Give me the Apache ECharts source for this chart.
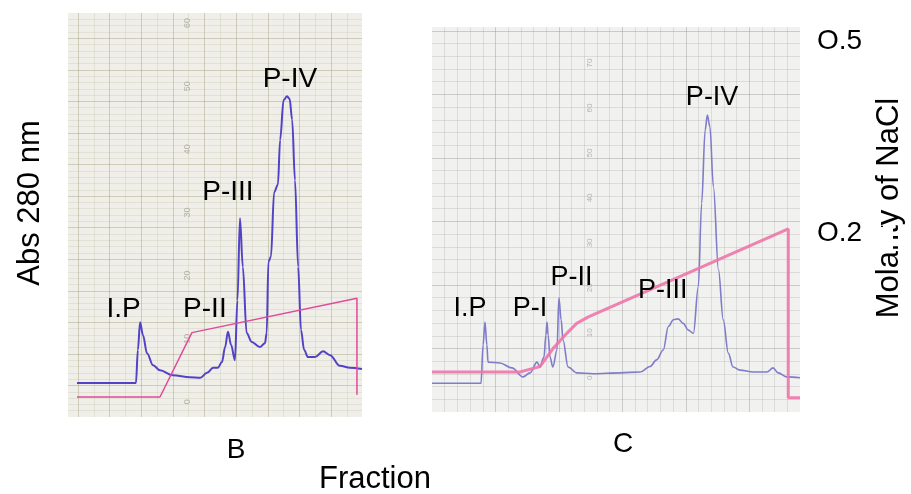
<!DOCTYPE html>
<html>
<head>
<meta charset="utf-8">
<script src="https://cdn.jsdelivr.net/npm/echarts@6/dist/echarts.min.js"></script>
<style>
  html, body { margin: 0; padding: 0; background: #fff; }
  #chart { width: 911px; height: 494px; }
</style>
</head>
<body>
<div id="chart"></div>
<script>
// ---- Column B: recorder trace (fraction number vs. chart divisions) ----
const fractionB = [2.85, 21.5, 22.1, 22.8, 23.7, 25.0, 26.9, 29.1, 33.2, 38.6, 41.8, 44.0, 45.9, 47.4, 48.7,
  49.7, 50.6, 51.6, 52.8, 53.6, 54.4, 55.3, 56.5, 58.1, 60.7, 62.3, 62.85, 63.4, 64.2, 65.2, 66.4, 67.1,
  68.2, 69.3, 70.1, 70.9, 71.8, 72.8, 73.7, 74.7, 75.9, 78.1, 80.7, 82.9, 86.0, 89.2, 93.0];
const absB = [3.0, 3.0, 8.2, 12.6, 10.6, 7.7, 5.8, 5.0, 4.2, 3.9, 3.8, 4.6, 5.4, 5.4, 6.3,
  8.7, 11.1, 9.0, 6.6, 16.1, 29.1, 21.4, 10.9, 9.5, 8.7, 9.3, 10.9, 22.2, 23.0, 33.2, 34.4, 41.5,
  47.8, 48.4, 48.0, 44.7, 35.1, 21.4, 11.4, 8.2, 7.1, 7.1, 8.0, 7.4, 5.7, 5.4, 5.2];
// NaCl gradient for column B (M)
const gradFractionB = [2.85, 29.1, 39.2, 91.4, 91.4];
const naclB = [0, 0, 0.09, 0.138, 0.003];
// peak names and where they are written
const peakNamesB = ['I.P', 'P-II', 'P-III', 'P-IV'];
const peakLabelXB = [17.6, 43.3, 50.6, 70.2];
const peakLabelYB = [14.6, 14.6, 33.2, 51.1];

// ---- Column C ----
const fractionC = [0, 15.45, 16.1, 16.7, 17.3, 17.65, 21.4, 25.2, 28.7, 30.9, 33.1, 34.0, 35.3, 35.9, 36.25,
  36.6, 37.2, 38.1, 39.4, 40.0, 40.7, 41.3, 42.9, 45.7, 50.8, 59.3, 65.6, 68.7, 70.8, 72.9, 74.5, 76.1,
  77.6, 79.2, 80.8, 82.4, 83.95, 85.0, 86.1, 86.8, 87.6, 88.7, 90.3, 91.8, 93.4, 94.9, 97.1, 101.2,
  105.6, 107.5, 109.1, 111.9, 116];
const absC = [-1.2, -1.2, 7.3, 12.4, 7.3, 3.5, 3.3, 2.2, 0.2, 1.1, 3.5, 2.4, 4.6, 9.5, 12.4,
  9.5, 4.6, 2.4, 6.2, 17.8, 12.9, 8.4, 2.4, 1.1, 0.9, 1.1, 1.3, 2.5, 4.0, 6.2, 11.4, 12.9,
  13.1, 12.1, 10.6, 9.9, 20.3, 38.8, 55.1, 58.4, 55.8, 42.5, 24.0, 12.9, 5.5, 2.4, 1.7, 1.3,
  1.3, 2.2, 1.1, 0.2, 0.0];
const gradFractionC = [0, 27.7, 34.0, 38.2, 42.5, 45.6, 49.3, 112.3, 112.3, 116];
const naclC = [0, 0, 0.0074, 0.033, 0.054, 0.068, 0.077, 0.2, -0.036, -0.036];
const peakNamesC = ['I.P', 'P-I', 'P-II', 'P-III', 'P-IV'];
const peakLabelXC = [12.0, 30.9, 44.0, 72.7, 88.3];
const peakLabelYC = [15.5, 15.5, 22.4, 19.5, 62.3];

// numbers printed on the recorder paper
const paperTicksB = [0, 10, 20, 30, 40, 50, 60];
const paperTicksC = [0, 10, 20, 30, 40, 50, 60, 70];

// molarity marks on the right
const molarityLabels = ['O.5', 'O.2'];

const FONT = '"Liberation Sans", Arial, sans-serif';
const pair = (xs, ys) => xs.map((x, i) => [x, ys[i]]);
const bare = { axisLine: { show: false }, axisTick: { show: false }, axisLabel: { show: false } };

function peakMarks(names, xs, ys, size) {
  return {
    symbol: 'circle',
    symbolSize: 1,
    itemStyle: { color: 'rgba(0,0,0,0)' },
    label: {
      show: true, position: 'inside', formatter: '{b}',
      color: '#000', fontFamily: FONT, fontSize: size
    },
    data: names.map((n, i) => ({ name: n, coord: [xs[i], ys[i]] }))
  };
}

// ruling colours of the two recorder papers
const paperB = { major: 'rgba(150,150,105,0.38)', minor: 'rgba(160,160,120,0.16)' };
const paperC = { major: 'rgba(140,140,140,0.38)', minor: 'rgba(150,150,150,0.24)' };

const chart = echarts.init(document.getElementById('chart'));
chart.setOption({
  animation: false,
  backgroundColor: '#fff',
  grid: [
    { left: 68, top: 13, width: 294, height: 404, show: true, backgroundColor: '#efeee8', borderWidth: 0 },
    { left: 78, top: 13, width: 284, height: 404 },
    { left: 432, top: 27, width: 368, height: 385, show: true, backgroundColor: '#f1f1f0', borderWidth: 0 }
  ],
  xAxis: [
    { gridIndex: 0, type: 'value', min: 0, max: 93, show: false },
    Object.assign({ gridIndex: 1, type: 'value', min: 0, max: 89.8, interval: 10,
      splitLine: { show: true, showMaxLine: false, lineStyle: { color: paperB.major, width: 1 } },
      minorTick: { show: false, splitNumber: 2 },
      minorSplitLine: { show: true, lineStyle: { color: paperB.minor, width: 1 } } }, bare),
    { gridIndex: 2, type: 'value', min: 0, max: 116, show: false },
    Object.assign({ gridIndex: 2, type: 'value', min: 0, max: 29, interval: 5,
      splitLine: { show: true, showMinLine: false, showMaxLine: false, lineStyle: { color: paperC.major, width: 1 } },
      minorTick: { show: false, splitNumber: 5 },
      minorSplitLine: { show: true, lineStyle: { color: paperC.minor, width: 1 } } }, bare)
  ],
  yAxis: [
    { gridIndex: 0, type: 'value', min: -2.4, max: 61.6, position: 'left', offset: -120,
      axisLine: { show: false }, axisTick: { show: false }, splitLine: { show: false },
      axisLabel: { show: true, customValues: paperTicksB, rotate: 90, margin: 0,
        align: 'center', verticalAlign: 'middle', color: '#b2b1a4', fontSize: 9, fontFamily: FONT } },
    { gridIndex: 0, type: 'value', min: -0.028, max: 0.537, show: false },
    Object.assign({ gridIndex: 0, type: 'value', min: 0, max: 64, interval: 5,
      splitLine: { show: true, showMinLine: false, showMaxLine: false, lineStyle: { color: paperB.major, width: 1 } },
      minorTick: { show: false, splitNumber: 5 },
      minorSplitLine: { show: true, lineStyle: { color: paperB.minor, width: 1 } } }, bare),
    { gridIndex: 1, type: 'value', min: 0, max: 1, show: false },
    { gridIndex: 2, type: 'value', min: -7.6, max: 78, position: 'left', offset: -158,
      axisLine: { show: false }, axisTick: { show: false }, splitLine: { show: false },
      axisLabel: { show: true, customValues: paperTicksC, rotate: 90, margin: 0,
        align: 'center', verticalAlign: 'middle', color: '#b4b4b4', fontSize: 8, fontFamily: FONT } },
    { gridIndex: 2, type: 'value', min: -0.056, max: 0.4825, show: false },
    Object.assign({ gridIndex: 2, type: 'value', min: 0, max: 30.3, interval: 5,
      splitLine: { show: true, showMinLine: false, showMaxLine: false, lineStyle: { color: paperC.major, width: 1 } },
      minorTick: { show: false, splitNumber: 5 },
      minorSplitLine: { show: true, lineStyle: { color: paperC.minor, width: 1 } } }, bare)
  ],
  series: [
    { type: 'line', name: 'A280 B', xAxisIndex: 0, yAxisIndex: 0, data: pair(fractionB, absB),
      showSymbol: false, symbol: 'none', smooth: 0.35, smoothMonotone: 'x',
      lineStyle: { color: '#5243c6', width: 2 }, z: 3,
      markPoint: peakMarks(peakNamesB, peakLabelXB, peakLabelYB, 28) },
    { type: 'line', name: 'NaCl B', xAxisIndex: 0, yAxisIndex: 1, data: pair(gradFractionB, naclB),
      showSymbol: false, symbol: 'none', lineStyle: { color: '#e04a9a', width: 1.5 }, z: 4 },
    { type: 'line', name: 'A280 C', xAxisIndex: 2, yAxisIndex: 4, data: pair(fractionC, absC),
      showSymbol: false, symbol: 'none', smooth: 0.35, smoothMonotone: 'x',
      lineStyle: { color: '#7f7cc9', width: 1.6 }, z: 3,
      markPoint: peakMarks(peakNamesC, peakLabelXC, peakLabelYC, 27) },
    { type: 'line', name: 'NaCl C', xAxisIndex: 2, yAxisIndex: 5, data: pair(gradFractionC, naclC),
      showSymbol: false, symbol: 'none', lineStyle: { color: 'rgba(238,118,168,0.9)', width: 3 }, z: 4 }
  ],
  graphic: [
    { type: 'text', x: 30, y: 203, rotation: Math.PI / 2, z: 20,
      style: { text: 'Abs 280 nm', fill: '#000', font: '31px ' + FONT,
        align: 'center', verticalAlign: 'middle', textAlign: 'center', textVerticalAlign: 'middle' } },
    { type: 'text', x: 375, y: 479, z: 20,
      style: { text: 'Fraction', fill: '#000', font: '31px ' + FONT,
        align: 'center', verticalAlign: 'middle', textAlign: 'center', textVerticalAlign: 'middle' } },
    { type: 'text', x: 236, y: 450, z: 20,
      style: { text: 'B', fill: '#000', font: '28px ' + FONT,
        align: 'center', verticalAlign: 'middle', textAlign: 'center', textVerticalAlign: 'middle' } },
    { type: 'text', x: 623, y: 444, z: 20,
      style: { text: 'C', fill: '#000', font: '28px ' + FONT,
        align: 'center', verticalAlign: 'middle', textAlign: 'center', textVerticalAlign: 'middle' } },
    { type: 'text', x: 889, y: 208, rotation: Math.PI / 2, z: 20,
      style: { text: 'Molarity of NaCl', fill: '#000', font: '31px ' + FONT,
        align: 'center', verticalAlign: 'middle', textAlign: 'center', textVerticalAlign: 'middle' } },
    { type: 'rect', z: 30, shape: { x: 806, y: 227, width: 87, height: 26 }, style: { fill: '#fff' } },
    { type: 'text', x: 817, y: 41, z: 40,
      style: { text: molarityLabels[0], fill: '#000', font: '28px ' + FONT,
        align: 'left', verticalAlign: 'middle', textAlign: 'left', textVerticalAlign: 'middle' } },
    { type: 'text', x: 817, y: 233, z: 40,
      style: { text: molarityLabels[1], fill: '#000', font: '28px ' + FONT,
        align: 'left', verticalAlign: 'middle', textAlign: 'left', textVerticalAlign: 'middle' } }
  ]
});
</script>
</body>
</html>
